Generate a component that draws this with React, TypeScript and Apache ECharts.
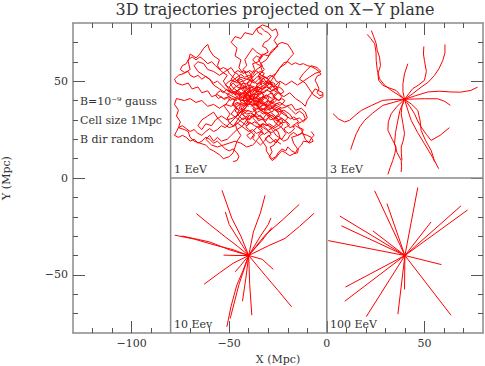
import React, { useEffect, useRef } from "react";
import * as echarts from "echarts";

const xMajor = [-100, -50, 0, 50];
const xMinor = [-120, -110, -90, -80, -70, -60, -40, -30, -20, -10, 10, 20, 30, 40, 60, 70];
const yMajor = [-50, 0, 50];
const yMinor = [-70, -60, -40, -30, -20, -10, 10, 20, 30, 40, 60, 70];

const titleText = "3D trajectories projected on X\u2212Y plane";
const notes = ["B=10\u207B\u2079 gauss", "Cell size 1Mpc", "B dir random"];
const panelLabels = ["1 EeV", "3 EeV", "10 Eev", "100 EeV"];

const dividers = [
  [[-80, -80], [-80, 80]],
  [[0, -80], [0, 80]],
  [[-80, 0], [80, 0]],
];

const traj1EeV = [
  [[-40,40],[-42,43],[-39,46],[-41,49],[-38,52],[-40,55],[-43,54],[-45,57],[-44,61],[-47,63],[-46,67],[-49,70],[-47,73],[-44,72],[-42,75],[-38,74],[-36,77],[-33,79],[-30,78],[-28,76],[-26,77],[-25,74],[-27,71],[-25,68],[-28,66],[-30,63],[-33,64],[-35,61],[-33,58],[-36,56],[-38,53]],
  [[-40,40],[-44,42],[-46,45],[-49,44],[-51,47],[-53,50],[-51,53],[-54,55],[-56,58],[-55,61],[-58,63],[-60,66],[-61,69],[-63,67],[-65,64],[-67,62],[-70,64],[-71,60],[-70,56],[-73,54],[-76,53],[-78,51],[-77,49],[-74,48],[-71,49],[-69,46],[-66,47],[-64,44],[-61,45],[-59,42],[-56,43],[-53,41],[-50,42],[-47,40]],
  [[-40,40],[-43,38],[-46,39],[-49,37],[-52,38],[-55,36],[-58,38],[-61,37],[-64,40],[-67,39],[-70,41],[-73,40],[-77,41],[-78,38],[-76,35],[-77,32],[-75,29],[-76,26],[-73,25],[-71,24],[-70,21],[-68,19],[-65,18],[-62,17],[-60,15],[-58,14],[-55,12],[-53,10],[-50,11],[-48,13],[-47,16],[-46,19],[-44,22],[-46,25],[-43,27],[-41,30],[-43,33],[-40,35]],
  [[-40,40],[-38,37],[-36,34],[-38,31],[-35,28],[-33,25],[-35,22],[-33,19],[-31,16],[-31,14],[-29,11],[-28,10],[-26,11],[-25,13],[-23,15],[-21,14],[-20,16],[-18,14],[-16,13],[-15,15],[-17,18],[-18,21],[-15,22],[-13,23],[-10,22],[-8,21],[-7,19],[-9,18],[-11,20],[-13,25],[-16,27],[-19,26],[-21,29],[-24,28],[-26,31],[-29,30],[-31,33],[-34,35],[-36,38]],
  [[-40,40],[-37,42],[-34,40],[-31,43],[-28,41],[-25,44],[-22,42],[-19,44],[-16,41],[-13,39],[-11,37],[-10,40],[-8,43],[-6,46],[-4,45],[-2,44],[-2,42],[-4,41],[-7,43],[-9,46],[-11,49],[-14,51],[-12,54],[-10,56],[-8,58],[-5,57],[-3,55],[-6,54],[-9,52],[-12,50],[-15,48],[-18,50],[-21,48],[-24,50],[-27,47],[-30,49],[-33,46],[-36,47],[-38,44]],
  [[-40,40],[-37,44],[-34,46],[-31,49],[-29,52],[-26,54],[-24,57],[-21,59],[-19,62],[-17,64],[-18,66],[-20,69],[-23,70],[-25,69],[-27,66],[-29,64],[-31,61],[-34,59],[-32,56],[-35,53],[-33,50],[-36,48]],
  [[-40,40],[-43,36],[-45,33],[-48,31],[-51,30],[-54,32],[-57,30],[-59,27],[-62,28],[-64,25],[-66,27],[-64,30],[-61,32],[-58,34],[-56,31],[-53,28],[-50,26],[-47,27],[-45,29],[-43,31],[-40,30],[-38,33],[-36,31],[-33,30],[-31,33],[-28,31],[-26,28],[-23,26],[-21,23],[-23,20],[-26,22],[-28,25],[-30,27],[-33,28],[-36,26],[-38,24],[-41,22],[-39,20],[-37,23]],
  [[-40,40],[-42,42],[-45,41],[-47,43],[-45,46],[-42,47],[-40,45],[-37,46],[-35,44],[-36,41],[-33,39],[-31,37],[-33,35],[-36,36],[-38,34],[-41,35],[-44,34],[-46,36],[-48,38],[-47,41],[-44,44],[-41,43],[-38,42],[-35,41],[-32,42],[-30,40],[-31,38],[-34,37],[-37,38],[-39,37]],
  [[-40,40],[-38,43],[-41,45],[-43,48],[-46,50],[-44,52],[-41,51],[-38,50],[-36,52],[-33,53],[-30,51],[-28,48],[-30,46],[-32,44],[-35,45],[-37,47],[-40,48],[-43,46],[-46,47],[-48,49],[-50,47],[-48,44],[-45,43],[-42,41]],
  [[-40,40],[-44,40],[-48,42],[-52,44],[-55,46],[-58,48],[-60,51],[-63,53],[-66,55],[-68,58],[-66,60],[-63,59],[-61,56],[-58,55],[-55,53],[-52,55],[-49,57],[-47,54],[-49,51],[-46,49],[-43,50],[-41,47]],
  [[-40,40],[-41,37],[-43,34],[-45,31],[-47,28],[-46,25],[-49,22],[-51,20],[-54,19],[-56,21],[-58,19],[-60,22],[-62,20],[-59,17],[-56,16],[-53,17],[-50,18],[-47,19],[-44,18],[-41,16],[-38,17],[-36,19],[-34,17],[-32,19],[-30,22],[-28,20],[-26,18],[-24,21],[-25,24],[-28,26],[-31,28],[-33,31],[-36,33],[-38,36]],
  [[-40,40],[-37,38],[-34,36],[-31,35],[-28,36],[-25,34],[-22,35],[-19,33],[-17,30],[-14,31],[-12,29],[-10,31],[-11,34],[-13,36],[-16,35],[-18,38],[-21,37],[-24,39],[-27,38],[-30,40],[-33,38],[-36,40]],
  [[-40,40],[-39,43],[-36,43],[-34,41],[-35,38],[-38,38],[-41,38],[-43,40],[-42,43],[-39,45],[-36,45],[-33,44],[-32,41],[-34,39],[-37,40],[-40,42],[-43,44],[-45,42],[-44,39],[-41,38]],
  [[-40,40],[-39,44],[-40,47],[-38,50],[-39,53],[-37,56],[-38,59],[-35,60],[-33,63],[-36,65],[-38,67],[-40,64],[-42,61],[-41,58],[-43,56],[-41,53],[-39,50]],
  [[-38,40],[-36,41.5],[-34.5,40],[-33,42],[-31,41],[-30,43],[-28,44],[-27,42],[-25.5,40.5],[-27,39],[-29,38],[-28,36],[-26,35],[-24,36],[-23,34],[-24.5,32],[-26.5,31],[-28,32.5],[-30,31],[-31.5,29],[-33,30.5],[-35,29.5],[-36,31.5],[-38,32],[-39.5,30],[-41,31.5],[-43,30],[-44.5,31.5],[-46,33],[-45,35],[-47,36.5],[-48.5,38],[-47,40],[-45.5,41.5],[-44,40],[-42,41],[-41,43],[-39,42]],
  [[-38,40],[-39.5,42],[-41,44],[-43,45],[-44.5,47],[-43,49],[-41,48.5],[-39,50],[-37,49],[-35.5,50.5],[-34,52],[-32,51],[-31,49],[-29,50],[-27.5,48],[-29,46],[-31,47],[-33,45.5],[-35,47],[-36.5,45],[-35,43],[-33.5,44],[-32,42.5],[-34,41],[-36,39],[-37.5,37],[-36,35.5],[-34,36.5],[-32,35],[-30.5,36.5],[-29,38.5],[-27,39.5]],
  [[-38,40],[-40,38.5],[-42,37],[-44,38],[-46,37],[-47.5,35],[-49,33],[-47,31.5],[-45,30],[-43,28.5],[-41,27],[-39,28.5],[-37,27],[-35,26],[-33,27.5],[-31.5,26],[-30,24.5],[-28,26],[-26,27.5],[-25,29.5],[-23,31],[-21.5,29.5],[-20,31],[-21,33],[-23,34.5],[-25,36],[-27,37],[-29,36],[-31,37.5],[-33,38.5],[-35,38],[-37,39]],
  [[-38,40],[-37,42.5],[-38.5,44.5],[-40,46],[-42,47.5],[-44,46],[-46,45],[-48,46.5],[-49.5,48.5],[-48,50.5],[-46,52],[-44,53.5],[-42,52],[-40,53],[-38,52],[-36,54],[-34,55],[-32,54],[-33,52.5],[-31,51.5],[-29,53],[-27,52],[-26,50],[-24,49],[-25,47],[-27,46],[-29,44.5],[-31,45.5],[-33,44],[-35,42.5],[-37,43.5],[-39,42]],
  [[-38,40],[-36.5,38],[-35,36],[-33,34.5],[-31,33],[-29,34],[-27,32.5],[-25.5,31],[-24,29],[-22.5,27.5],[-24,26],[-26,25],[-28,23.5],[-30,24],[-32,22.5],[-34,24],[-36,23],[-38,25],[-40,24],[-42,25.5],[-44,27],[-46,28.5],[-48,27],[-50,28.5],[-51,31],[-49.5,33],[-51,35],[-52.5,37],[-51,39],[-49.5,41],[-51,43],[-49,44.5],[-47,43],[-45,44],[-43,42.5],[-41,41]],
  [[-38,40],[-40,41],[-41.5,39],[-43.5,40.5],[-45,42.5],[-43,44],[-41,45.5],[-39,47],[-37,46],[-35,47.5],[-33,49],[-31,48],[-29.5,46.5],[-28,45],[-26,46],[-24.5,44],[-23,42],[-24.5,40],[-26.5,41],[-28.5,40],[-30,38],[-31.5,36],[-33.5,35],[-35.5,34],[-37,32.5],[-39,33.5],[-41,33],[-43,34.5],[-44,36.5],[-42,38],[-40,37]],
  [[-38,40],[-35,39],[-32,38.5],[-29,37],[-26,37.5],[-23,36],[-20,37],[-18,35],[-16,33],[-14,34.5],[-12,33],[-11,30.5],[-13,29],[-15,28],[-14,26],[-12,25],[-13,23],[-15,22],[-17,23.5],[-19,22],[-20,20],[-22,19],[-24,20.5],[-26,19],[-27,17],[-29,16],[-28,13.5],[-29.5,11],[-28,9],[-26,10.5],[-24.5,12.5],[-23,14],[-21,13],[-19,11.5],[-17,12.5],[-15,13],[-14.5,15.5],[-13,17],[-12,19],[-9,18.5],[-8,20.5],[-6.5,22],[-8,24]],
  [[-38,40],[-37,43],[-35,45],[-36,48],[-34,50],[-35,53],[-33,55],[-34,58],[-36,59],[-38,61],[-36,63],[-34,62],[-32,64],[-30,65],[-31,67],[-33,68],[-32,70],[-30,71],[-28.5,73],[-30,75],[-32,76],[-34,78],[-36,77],[-35,75],[-33,74]],
  [[-38,40],[-40,43],[-42,45],[-44,48],[-46,50],[-48,52],[-50,54],[-51,56],[-53,57],[-55,56],[-57,58],[-59,60],[-61,59],[-63,61],[-65,62.5],[-67,61],[-69,62.5],[-71,61],[-72,59],[-74,58],[-75,56],[-73,54.5],[-71,55],[-70,53],[-68,52],[-66,53],[-64,51],[-62,52.5],[-60,51],[-58,49],[-56,50],[-54,48],[-52,46],[-50,45],[-48,43]],
  [[-38,40],[-40,38],[-42,36],[-44,34],[-46,32],[-48,30],[-50,28],[-52,26],[-54,27],[-56,25],[-58,24],[-60,25.5],[-62,24],[-64,22],[-66,23],[-68,25],[-70,24],[-72,25.5],[-74,27],[-76,26],[-77,24],[-78,22],[-76,21],[-74,22],[-72,21],[-70,19],[-68,20],[-66,18],[-64,19],[-62,21],[-60,20],[-58,18],[-56,19],[-54,17],[-52,15],[-50,14],[-48,15],[-46,13],[-45,11],[-46,9],[-48,8.5]],
  [[-38,40],[-35,43],[-33,46],[-30,48],[-28,51],[-26,54],[-24,57],[-22,59.5],[-20,60],[-18,58.5],[-16,59.5],[-14,58.5],[-12,59],[-10,58],[-8,57.5],[-6,56.5],[-4,55],[-3,53.5],[-5,52.5],[-6,50.5],[-5,48.5],[-4,46],[-5,44],[-3.5,42.5],[-2,43]],
  [[-36,38],[-35,39.5],[-36.5,40.5],[-37.5,39],[-36,37.5],[-34.5,36.5],[-33,37.5],[-32,39],[-33.5,40],[-32.5,41.5],[-31,42.5],[-29.5,41.5],[-30.5,40],[-29,39],[-27.5,40],[-26.5,41.5],[-28,43],[-29,44.5],[-27.5,45.5],[-26,44.5],[-25,46],[-26,47.5],[-27.5,47],[-28.5,48.5],[-30,49.5],[-31.5,48.5],[-32.5,50],[-34,49],[-33,47.5],[-34.5,46.5],[-36,47.5],[-37,46],[-38.5,47],[-40,46],[-39,44.5],[-40.5,43.5],[-42,44.5],[-43,43],[-41.5,42],[-40,41.5]],
  [[-42,36],[-43.5,35],[-45,36],[-44,37.5],[-45.5,38.5],[-47,37.5],[-46,36],[-47,34.5],[-45.5,33.5],[-44,34],[-43,32.5],[-41.5,31.5],[-40,32.5],[-38.5,31.5],[-37,32.5],[-35.5,31.5],[-34,32.5],[-33,31],[-31.5,30],[-30,31],[-29,32.5],[-30.5,33.5],[-32,34.5],[-31,36],[-29.5,35],[-28,34],[-27,35.5],[-25.5,34.5],[-24.5,33],[-26,32],[-27,30.5],[-25.5,29.5],[-24,30.5],[-22.5,29.5],[-23.5,28],[-25,27],[-26.5,26],[-28,27],[-29.5,28],[-31,27],[-32.5,28],[-34,27],[-35.5,28],[-37,29],[-38.5,28],[-40,29],[-41.5,28]],
  [[-44,44],[-45.5,45],[-47,44],[-48.5,45],[-47.5,46.5],[-46,47.5],[-44.5,48.5],[-45.5,50],[-44,51],[-42.5,50],[-41,51],[-39.5,52],[-38,51],[-37,49.5],[-35.5,48.5],[-34,49.5],[-33,51],[-31.5,52],[-30,51],[-31,49.5],[-29.5,48.5],[-28,49.5],[-26.5,48.5],[-27.5,47],[-26,46],[-24.5,47],[-23,46],[-22,44.5],[-23.5,43.5],[-25,44.5],[-26.5,43.5],[-27.5,42],[-26,41],[-24.5,40],[-23,41],[-21.5,40],[-22.5,38.5],[-24,37.5],[-25.5,38.5],[-27,37.5]],
  [[-46,40],[-48,41],[-49.5,40],[-51,41.5],[-52.5,40.5],[-54,42],[-55.5,41],[-57,42.5],[-56,44],[-54.5,45],[-53,44],[-51.5,45.5],[-50,44.5],[-49,46],[-50.5,47],[-52,48],[-50.5,49.5],[-49,50.5],[-47.5,49.5],[-46,50.5],[-44.5,52],[-45.5,53.5],[-47,54.5],[-45.5,55.5],[-44,54.5],[-42.5,55.5],[-41,54.5],[-39.5,55.5],[-38,54.5],[-36.5,55.5],[-35,54.5],[-33.5,53],[-32,52]],
  [[-34,34],[-32.5,33],[-31,34],[-29.5,33],[-28,32],[-26.5,31],[-25,32],[-23.5,31],[-22,30],[-20.5,29],[-19,27.5],[-20.5,26.5],[-22,25.5],[-21,24],[-19.5,23],[-18,24],[-16.5,25.5],[-17.5,27],[-16,28],[-14.5,29],[-15.5,30.5],[-17,31.5],[-18.5,30.5],[-20,31.5],[-21.5,32.5],[-23,33.5],[-24.5,34.5],[-26,35.5],[-27.5,36.5],[-29,35.5],[-30.5,36.5],[-32,37.5]],
  [[-40,32],[-41,30],[-40,28],[-41.5,26.5],[-40,25],[-38.5,23.5],[-37,22],[-38,20.5],[-36.5,19],[-35,20.5],[-34,22],[-32.5,23],[-33.5,24.5],[-35,25.5],[-34,27],[-32.5,26],[-31,25],[-29.5,24],[-28.5,22.5],[-30,21.5],[-31.5,20.5],[-30.5,19],[-29,18],[-27.5,19],[-26,20],[-25,18.5],[-23.5,17.5]],
];

const traj3EeV = [
  [[39.8,40.6],[37.5,43],[35.5,45.2],[32,46.5],[28.7,47.8],[26.5,50.5],[26.2,53.8],[27.5,58],[27,62.4],[25.8,66],[25.3,69.3],[24,73],[22.8,76.1]],
  [[39.8,40.6],[36.5,43],[33,45.2],[29.5,48],[27,51.2],[25.8,56],[25.3,60.7],[25.2,65],[24.5,69.3],[22.5,72],[20.7,74.1]],
  [[39.8,40.6],[39,44.5],[39,48.7],[39.8,53.8],[41.5,59]],
  [[39.8,40.6],[42,43.5],[44,46.1],[47,48],[50,50.4],[51,55],[50,60.7],[49.5,64],[49.7,67.9]],
  [[39.8,40.6],[44,43.5],[48.3,46.9],[52,49.5],[55.1,52.9],[57.5,56.5],[59.4,60.7],[60.5,64.5],[60.5,68.9]],
  [[39.8,40.6],[45.5,42.5],[51.7,44.4],[57.5,44.8],[63.6,44.4],[68.5,44.3],[73.8,45.2],[77.2,46.9]],
  [[39.8,40.6],[45,40.8],[50,40.9],[56.8,40.9],[60.5,39.5],[63.3,37.5]],
  [[39.8,40.6],[34,40.5],[28.7,40.1],[23,37.5],[17.7,34.9],[14.5,32.3],[11.7,29.8],[9.2,28.9],[6,30.5],[3.2,33.2]],
  [[39.8,40.6],[34,39],[28.7,37.5],[23.5,33.5],[19.4,29.8],[17,26.5],[15.1,22.9],[13.5,18.5],[12.2,14.6]],
  [[39.8,40.6],[37.5,35],[36.4,29.8],[35.2,23.5],[34.7,17.7],[36,13],[38.1,9.1],[38.3,6],[38.1,3.1]],
  [[39.8,40.6],[36,37],[33,33.2],[31.5,29],[31.3,24.6],[33.5,20],[35.5,16],[34.8,12.5],[33.8,9.1],[32.5,5.5],[31.3,1.9]],
  [[39.8,40.6],[41.5,35],[43.2,29.8],[46.5,23.5],[50,17.7],[52.5,13.5],[55.1,9.1],[57.3,4.8]],
  [[39.8,40.6],[42.5,37],[44.9,33.2],[46.5,29.5],[48.3,26.3],[51,22.5],[53.4,19.4],[58,22],[62.8,26]],
  [[39.8,40.6],[43.5,38],[46.6,34.9],[47.8,29.5],[48.3,24.6],[50.5,19.5],[53.4,14.3],[54.5,11],[55.1,8.3]],
  [[39.8,40.6],[38.5,37],[38.1,33.2],[39,28],[39.8,22.9],[39.2,19.5],[38.1,16],[38.2,12.5],[38.5,9.1]],
];

const traj10EeV = [
  [[-40,-40],[-44,-30],[-48.6,-20.9],[-53.7,-6.3]],
  [[-40,-40],[-46,-30.4],[-50,-24],[-52,-17.5]],
  [[-40,-40],[-37.6,-27.8],[-34,-18],[-31.6,-8.9]],
  [[-40,-40],[-46,-35],[-52,-30.4],[-60,-24],[-66.8,-18.4]],
  [[-40,-40],[-48,-37],[-57.1,-34.7],[-68,-31.5],[-77.9,-29.5]],
  [[-40,-40],[-50,-37],[-60,-33],[-74.3,-29.9]],
  [[-40,-40],[-31.6,-29.5],[-22,-21],[-14.1,-13.6]],
  [[-40,-40],[-34,-30],[-30,-24],[-28.6,-20.6]],
  [[-40,-40],[-30,-35],[-21.4,-31.2],[-14,-25],[-6.5,-18.2]],
  [[-40,-40],[-33,-32],[-28.2,-25.6]],
  [[-40,-40],[-46,-40],[-52.9,-39.8]],
  [[-40,-40],[-33,-42],[-27.4,-47.2]],
  [[-40,-40],[-48,-44],[-55,-49],[-62.8,-54.8]],
  [[-40,-40],[-44,-45],[-46.9,-48.4]],
  [[-40,-40],[-31.6,-50.2],[-25,-58],[-18,-66.5]],
  [[-40,-40],[-41.5,-52],[-43.2,-63.6]],
  [[-40,-40],[-39.5,-55],[-38.4,-70.8]],
  [[-40,-40],[-43,-48],[-46.1,-55.3],[-49,-66],[-51.2,-76.8]],
  [[-40,-40],[-45,-55],[-49.5,-72.5]],
];

const traj100EeV = [
  [[40,-40],[24.5,-6.6]],
  [[40,-40],[46.6,-4.9]],
  [[40,-40],[30.8,-13.2]],
  [[40,-40],[68.7,-14.4]],
  [[40,-40],[72.1,-16.5]],
  [[40,-40],[6.6,-19.6]],
  [[40,-40],[7.5,-24.7]],
  [[40,-40],[53.4,-22.7]],
  [[40,-40],[23.6,-27.3]],
  [[40,-40],[0.7,-32.3]],
  [[40,-40],[58.7,-44.7]],
  [[40,-40],[9.5,-56.3]],
  [[40,-40],[9.2,-63.6]],
  [[40,-40],[39.8,-57.5]],
  [[40,-40],[36.4,-70.3]],
  [[40,-40],[20.2,-71.6]],
  [[40,-40],[63.6,-70.8]],
];

const FONT = "DejaVu Serif";
const TXT = "#333";
const FRAME = "#8a8a8a";
const TICK = "#555";

export default function App() {
  const ref = useRef<HTMLDivElement>(null);
  useEffect(() => {
    if (!ref.current) return;
    const chart = echarts.init(ref.current, null, { renderer: "svg" });
    const minus = (v: number) => String(v).replace("-", "\u2212");
    const lineAxis = { show: true, onZero: false, lineStyle: { color: FRAME, width: 1.5 } };
    const noLine = { show: false, onZero: false };
    const xBase = { type: "value", min: -130, max: 80, splitLine: { show: false } };
    const yBase = { type: "value", min: -80, max: 80, splitLine: { show: false } };
    const major = (vals: number[]) => ({ show: true, inside: true, length: 12, customValues: vals, lineStyle: { color: TICK, width: 1 } });
    const minor = (vals: number[]) => ({ show: true, inside: true, length: 5, customValues: vals, lineStyle: { color: TICK, width: 1 } });
    const labelStyle = { color: TXT, fontFamily: FONT, fontSize: 11 };

    const trajSeries = [traj1EeV, traj3EeV, traj10EeV, traj100EeV].flatMap((group) =>
      group.map((t) => ({
        type: "line",
        data: t,
        symbol: "none",
        showSymbol: false,
        silent: true,
        lineStyle: { color: "#ff0000", width: 1 },
        z: 2,
      }))
    );
    const dividerSeries = dividers.map((d) => ({
      type: "line",
      data: d,
      symbol: "none",
      silent: true,
      lineStyle: { color: FRAME, width: 1.5 },
      z: 3,
    }));

    const option: any = {
      animation: false,
      grid: { left: 73, top: 23, width: 410, height: 310, containLabel: false, outerBoundsMode: "none" },
      xAxis: [
        {
          ...xBase, position: "bottom", axisLine: lineAxis, axisTick: major(xMajor),
          axisLabel: { show: true, customValues: xMajor, formatter: minus, margin: 5, ...labelStyle },
          name: "X (Mpc)", nameLocation: "middle", nameGap: 19, nameTextStyle: labelStyle,
        },
        { ...xBase, position: "bottom", axisLine: noLine, axisTick: minor(xMinor), axisLabel: { show: false } },
        { ...xBase, position: "top", axisLine: lineAxis, axisTick: major(xMajor), axisLabel: { show: false } },
        { ...xBase, position: "top", axisLine: noLine, axisTick: minor(xMinor), axisLabel: { show: false } },
      ],
      yAxis: [
        {
          ...yBase, position: "left", axisLine: lineAxis, axisTick: major(yMajor),
          axisLabel: { show: true, customValues: yMajor, formatter: minus, margin: 5, ...labelStyle },
          name: "Y (Mpc)", nameLocation: "middle", nameGap: 61, nameTextStyle: labelStyle,
        },
        { ...yBase, position: "left", axisLine: noLine, axisTick: minor(yMinor), axisLabel: { show: false } },
        { ...yBase, position: "right", axisLine: lineAxis, axisTick: major(yMajor), axisLabel: { show: false } },
        { ...yBase, position: "right", axisLine: noLine, axisTick: minor(yMinor), axisLabel: { show: false } },
      ],
      series: [...trajSeries, ...dividerSeries],
      graphic: [
        { type: "text", x: 275, y: 9, style: { text: titleText, fill: TXT, font: `16px "${FONT}"`, textAlign: "center", textVerticalAlign: "middle" } },
        ...notes.map((n, i) => ({
          type: "text", x: 80, y: 101 + i * 19,
          style: { text: n, fill: TXT, font: `11px "${FONT}"`, textAlign: "left", textVerticalAlign: "middle" },
        })),
        ...panelLabels.map((p, i) => ({
          type: "text", x: i % 2 === 0 ? 174 : 330, y: i < 2 ? 169 : 324,
          style: { text: p, fill: TXT, font: `11px "${FONT}"`, textAlign: "left", textVerticalAlign: "middle" },
        })),
      ],
    };
    chart.setOption(option);
    return () => chart.dispose();
  }, []);
  return <div ref={ref} style={{ width: 485, height: 366, position: "absolute", left: 0, top: 0 }} />;
}
